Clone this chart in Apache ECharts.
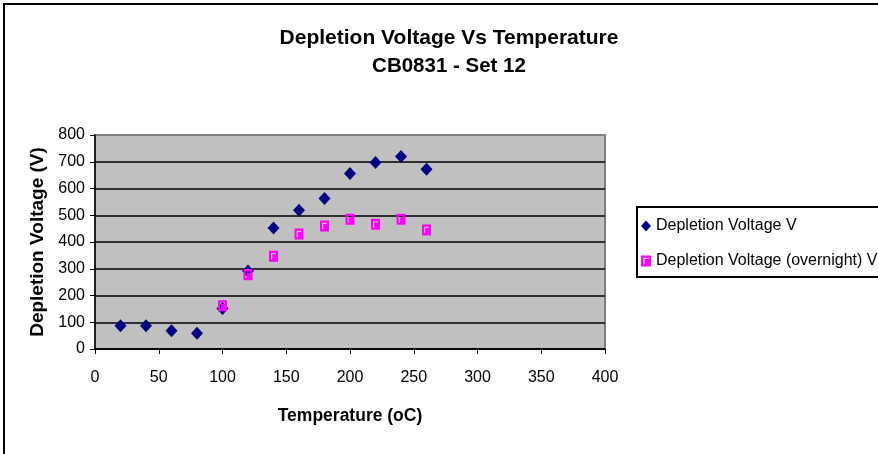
<!DOCTYPE html>
<html>
<head>
<meta charset="utf-8">
<script src="https://cdn.jsdelivr.net/npm/echarts@6/dist/echarts.min.js"></script>
<style>
html,body{margin:0;padding:0;background:#fff;}
#chart{width:878px;height:454px;}
</style>
</head>
<body>
<div id="chart"></div>
<script>
// Data
var temperatures = [20, 40, 60, 80, 100, 120, 140, 160, 180, 200, 220, 240, 260];
var depletionVoltage = [87, 87, 68, 59, 151, 292, 452, 519, 563, 656, 697, 720, 672];
var overnightTemps = [100, 120, 140, 160, 180, 200, 220, 240, 260];
var overnightVoltage = [162, 278, 347, 430, 460, 485, 466, 485, 445];
var seriesNames = ['Depletion Voltage V', 'Depletion Voltage (overnight) V'];
var titleLines = ['Depletion Voltage Vs Temperature', 'CB0831 - Set 12'];
var xAxisName = 'Temperature (oC)';
var yAxisName = 'Depletion Voltage (V)';

function pairs(xs, ys) { return xs.map(function (x, i) { return [x, ys[i]]; }); }

var FONT = '"Liberation Sans", Arial, sans-serif';
var squareHole = 'path://M0 0 H10 V11 H0 Z M2.3 2.3 V8.8 H3.6 V3.6 H7.6 V2.3 Z';

var chart = echarts.init(document.getElementById('chart'));
chart.setOption({
  backgroundColor: '#ffffff',
  animation: false,
  textStyle: { fontFamily: FONT },
  graphic: [
    { type: 'rect', shape: { x: 4, y: 4, width: 900, height: 500 }, style: { fill: 'none', stroke: '#000', lineWidth: 2 }, silent: true, z: 100 },
    { type: 'text', x: 449, y: 38, style: { text: titleLines[0], fill: '#000', font: 'bold 21px ' + FONT, textAlign: 'center', textVerticalAlign: 'middle' } },
    { type: 'text', x: 449, y: 66, style: { text: titleLines[1], fill: '#000', font: 'bold 20.5px ' + FONT, textAlign: 'center', textVerticalAlign: 'middle' } }
  ],
  grid: {
    left: 95, top: 135, right: 273, bottom: 105,
    show: true, backgroundColor: '#c0c0c0', borderColor: '#808080', borderWidth: 2
  },
  legend: {
    orient: 'vertical', left: 637, top: 207,
    padding: [11, 10, 8, 4],
    itemGap: 19, itemWidth: 10, itemHeight: 11,
    borderColor: '#000', borderWidth: 2, backgroundColor: '#fff',
    textStyle: { fontSize: 16, color: '#000', fontFamily: FONT, lineHeight: 16 },
    data: seriesNames
  },
  xAxis: {
    type: 'value', min: 0, max: 400, interval: 50,
    name: xAxisName, nameLocation: 'middle', nameGap: 58,
    nameTextStyle: { fontSize: 17.5, fontWeight: 'bold', color: '#000' },
    axisLine: { show: true, onZero: false, lineStyle: { color: '#000', width: 1.5 } },
    axisTick: { show: true, inside: false, length: 5, lineStyle: { color: '#000' } },
    axisLabel: { fontSize: 16, color: '#000', margin: 21 },
    splitLine: { show: false }
  },
  yAxis: {
    type: 'value', min: 0, max: 800, interval: 100,
    name: yAxisName, nameLocation: 'middle', nameGap: 48, nameRotate: 90,
    nameTextStyle: { fontSize: 19, fontWeight: 'bold', color: '#000' },
    axisLine: { show: true, lineStyle: { color: '#000', width: 1.5 } },
    axisTick: { show: true, inside: false, length: 5, lineStyle: { color: '#000' } },
    axisLabel: { fontSize: 16, color: '#000', margin: 10 },
    splitLine: { show: true, showMaxLine: false, lineStyle: { color: '#000', width: 1.5 } }
  },
  series: [
    {
      name: seriesNames[0], type: 'scatter', symbol: 'diamond', symbolSize: [12, 13],
      itemStyle: { color: '#000080', opacity: 1 },
      data: pairs(temperatures, depletionVoltage), z: 3
    },
    {
      name: seriesNames[1], type: 'scatter', symbol: squareHole, symbolSize: [9, 11],
      itemStyle: { color: '#ff00ff', opacity: 1 },
      data: pairs(overnightTemps, overnightVoltage), z: 4
    }
  ]
});
</script>
</body>
</html>
